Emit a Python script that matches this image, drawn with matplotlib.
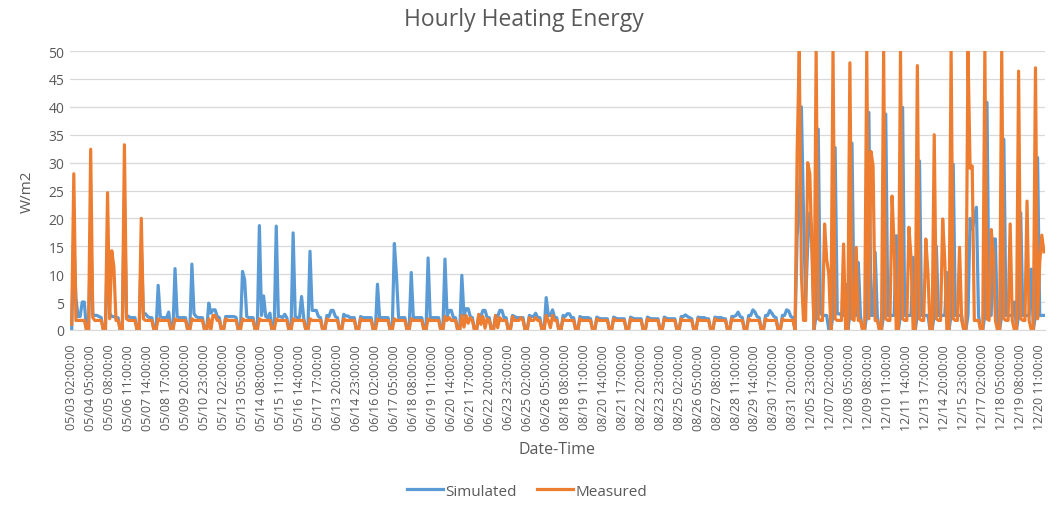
import numpy as np
import matplotlib.pyplot as plt

plt.rcParams['font.family'] = ['Open Sans', 'DejaVu Sans']

# category labels, one every 27 hours
tick_labels = [
    "05/03 02:00:00", "05/04 05:00:00", "05/05 08:00:00", "05/06 11:00:00",
    "05/07 14:00:00", "05/08 17:00:00", "05/09 20:00:00", "05/10 23:00:00",
    "05/12 02:00:00", "05/13 05:00:00", "05/14 08:00:00", "05/15 11:00:00",
    "05/16 14:00:00", "05/17 17:00:00", "06/13 20:00:00", "06/14 23:00:00",
    "06/16 02:00:00", "06/17 05:00:00", "06/18 08:00:00", "06/19 11:00:00",
    "06/20 14:00:00", "06/21 17:00:00", "06/22 20:00:00", "06/23 23:00:00",
    "06/25 02:00:00", "06/26 05:00:00", "08/18 08:00:00", "08/19 11:00:00",
    "08/20 14:00:00", "08/21 17:00:00", "08/22 20:00:00", "08/23 23:00:00",
    "08/25 02:00:00", "08/26 05:00:00", "08/27 08:00:00", "08/28 11:00:00",
    "08/29 14:00:00", "08/30 17:00:00", "08/31 20:00:00", "12/05 23:00:00",
    "12/07 02:00:00", "12/08 05:00:00", "12/09 08:00:00", "12/10 11:00:00",
    "12/11 14:00:00", "12/13 17:00:00", "12/14 20:00:00", "12/15 23:00:00",
    "12/17 02:00:00", "12/18 05:00:00", "12/19 08:00:00", "12/20 11:00:00",
]

# values every 3 h, one row per day (02 05 08 11 14 17 20 23 h)
sim_may = [
    [0, 16.6, 5.8, 2.4, 2.4, 5.0, 5.0, 0],
    [0, 18.4, 2.8, 2.6, 2.6, 2.4, 2.2, 0],
    [0, 15.7, 3.0, 2.4, 2.4, 2.2, 2.2, 0],
    [0, 23.4, 2.6, 2.4, 2.2, 2.2, 2.2, 0],
    [0, 15.0, 2.9, 2.9, 2.4, 2.2, 2.2, 0],
    [0, 8.0, 2.4, 2.2, 2.2, 2.2, 3.2, 0],
    [0, 11.0, 2.4, 2.2, 2.2, 2.2, 2.2, 0],
    [0, 11.8, 2.9, 2.4, 2.2, 2.2, 2.2, 0],
    [0, 4.8, 3.0, 3.6, 3.6, 2.4, 2.2, 0],
    [0, 2.4, 2.4, 2.4, 2.4, 2.4, 2.2, 0],
    [0, 10.5, 9.0, 2.4, 2.2, 2.2, 2.2, 0],
    [0, 18.7, 2.6, 6.1, 2.4, 2.2, 3.0, 0],
    [0, 18.6, 2.4, 2.4, 2.2, 2.8, 2.2, 0],
    [0, 17.4, 2.4, 2.2, 2.2, 6.0, 2.2, 0],
    [0, 14.1, 3.5, 3.5, 3.5, 2.4, 2.2, 0],
]
meas_may = [
    [1.0, 28.0, 1.7, 1.7, 1.7, 1.7, 1.7, 0],
    [0, 32.4, 2.2, 1.7, 1.7, 1.7, 1.7, 0],
    [0, 24.6, 2.0, 14.2, 11.3, 1.7, 1.7, 0],
    [0, 33.2, 2.0, 1.7, 1.7, 1.7, 1.7, 0],
    [0, 20.0, 2.0, 1.7, 1.7, 1.7, 1.7, 0],
    [0, 2.0, 1.7, 1.7, 1.7, 1.7, 1.7, 0],
    [0, 2.0, 1.7, 1.7, 1.7, 1.7, 1.7, 0],
    [0, 2.0, 1.7, 1.7, 1.7, 1.7, 1.7, 0],
    [0, 2.0, 0, 2.6, 2.6, 1.7, 1.7, 0],
    [0, 2.0, 1.7, 1.7, 1.7, 1.7, 1.7, 0],
    [0, 2.0, 1.7, 1.7, 1.7, 1.7, 1.7, 0],
    [0, 2.0, 1.7, 1.7, 1.7, 1.7, 1.7, 0],
    [0, 2.0, 1.7, 1.7, 1.7, 1.7, 1.7, 0],
    [0, 2.0, 1.7, 1.7, 1.7, 1.7, 1.7, 0],
    [0, 2.0, 1.7, 1.7, 1.7, 1.7, 1.7, 0],
]

sim_jun = [
    [0, 2.6, 2.4, 3.5, 3.5, 2.4, 2.2, 0],
    [0, 2.8, 2.5, 2.5, 2.2, 2.2, 2.2, 0],
    [0, 2.4, 2.2, 2.2, 2.2, 2.2, 2.2, 0],
    [0, 8.2, 2.2, 2.2, 2.2, 2.2, 2.2, 0],
    [0, 15.5, 9.7, 2.2, 2.2, 2.2, 2.2, 0],
    [0, 10.3, 2.2, 2.2, 2.2, 2.2, 2.2, 0],
    [0, 12.9, 2.2, 2.2, 2.2, 2.2, 2.2, 0],
    [0, 12.7, 2.4, 3.5, 3.5, 2.2, 2.2, 0],
    [0, 9.8, 2.6, 3.8, 3.8, 2.4, 2.2, 0],
    [0, 2.6, 2.4, 3.5, 3.5, 2.2, 2.2, 0],
    [0, 2.6, 2.4, 3.5, 3.5, 2.2, 2.2, 0],
    [0, 2.6, 2.4, 2.2, 2.2, 2.2, 2.2, 0],
    [0, 2.6, 2.4, 2.4, 3.0, 2.2, 2.2, 0],
    [0, 5.8, 2.6, 2.6, 3.6, 2.2, 2.2, 0],
]
meas_jun = [
    [0, 2.0, 1.7, 1.7, 1.7, 1.7, 1.7, 0],
    [0, 2.0, 1.7, 1.7, 1.7, 1.7, 1.7, 0],
    [0, 2.0, 1.7, 1.7, 1.7, 1.7, 1.7, 0],
    [0, 2.0, 1.7, 1.7, 1.7, 1.7, 1.7, 0],
    [0, 2.0, 1.7, 1.7, 1.7, 1.7, 1.7, 0],
    [0, 2.0, 1.7, 1.7, 1.7, 1.7, 1.7, 0],
    [0, 2.0, 1.7, 1.7, 1.7, 1.7, 1.7, 0],
    [0, 2.4, 1.7, 2.2, 1.7, 1.7, 1.7, 0],
    [0, 2.6, 0.5, 2.6, 1.2, 2.2, 1.7, 0],
    [0, 2.8, 1.0, 2.4, 0.3, 2.0, 1.7, 0],
    [0, 2.6, 0.4, 2.2, 1.7, 1.7, 1.7, 0],
    [0, 2.4, 1.7, 1.7, 1.7, 2.2, 1.7, 0],
    [0, 2.2, 1.7, 1.7, 2.2, 1.7, 1.7, 0],
    [0, 2.6, 1.7, 0.4, 2.6, 1.7, 1.7, 0],
]

sim_aug = [
    [0, 2.6, 2.4, 2.9, 2.9, 2.2, 2.2, 0],
    [0, 2.4, 2.2, 2.2, 2.2, 2.2, 2.0, 0],
    [0, 2.3, 2.1, 2.0, 2.0, 2.0, 2.0, 0],
    [0, 2.3, 2.1, 2.0, 2.0, 2.0, 2.0, 0],
    [0, 2.3, 2.1, 2.0, 2.0, 2.0, 2.0, 0],
    [0, 2.3, 2.1, 2.0, 2.0, 2.0, 2.0, 0],
    [0, 2.3, 2.1, 2.0, 2.0, 2.0, 2.0, 0],
    [0, 2.4, 2.4, 2.7, 2.4, 2.2, 2.0, 0],
    [0, 2.3, 2.2, 2.2, 2.2, 2.0, 2.0, 0],
    [0, 2.3, 2.2, 2.2, 2.2, 2.0, 2.0, 0],
    [0, 2.4, 2.4, 2.6, 3.2, 2.4, 2.2, 0],
    [0, 2.6, 2.6, 3.6, 3.2, 2.4, 2.2, 0],
    [0, 2.6, 2.6, 3.5, 3.0, 2.4, 2.2, 0],
    [0, 2.6, 2.6, 3.6, 3.4, 2.4, 2.2, 0],
]
meas_aug = [
    [0, 2.0, 1.7, 1.7, 1.7, 1.7, 1.7, 0],
    [0, 2.0, 1.7, 1.7, 1.7, 1.7, 1.7, 0],
    [0, 2.0, 1.7, 1.7, 1.7, 1.7, 1.7, 0],
    [0, 2.0, 1.7, 1.7, 1.7, 1.7, 1.7, 0],
    [0, 2.0, 1.7, 1.7, 1.7, 1.7, 1.7, 0],
    [0, 2.0, 1.7, 1.7, 1.7, 1.7, 1.7, 0],
    [0, 2.0, 1.7, 1.7, 1.7, 1.7, 1.7, 0],
    [0, 2.0, 1.7, 1.7, 1.7, 1.7, 1.7, 0],
    [0, 2.0, 1.7, 1.7, 1.7, 1.7, 1.7, 0],
    [0, 2.0, 1.7, 1.7, 1.7, 1.7, 1.7, 0],
    [0, 2.0, 1.7, 1.7, 1.7, 1.7, 1.7, 0],
    [0, 2.0, 1.7, 1.7, 1.7, 1.7, 1.7, 0],
    [0, 2.0, 1.7, 1.7, 1.7, 1.7, 1.7, 0],
    [0, 2.0, 1.7, 1.7, 1.7, 1.7, 1.7, 0],
]

sim_dec = [
    [17.0, 21.0, 40.0, 21.0, 5.0, 15.0, 21.0, 17.0],
    [0, 2.6, 36.0, 3.0, 2.6, 2.6, 2.6, 0],
    [0, 2.6, 32.7, 2.9, 2.9, 2.6, 2.6, 8.2],
    [0, 2.6, 33.5, 2.6, 2.6, 12.1, 2.6, 0],
    [0, 2.6, 39.0, 2.6, 2.6, 13.9, 2.6, 0],
    [0, 2.6, 38.7, 2.6, 2.6, 2.6, 2.6, 16.9],
    [0, 2.6, 39.9, 2.6, 2.6, 2.6, 2.6, 13.0],
    [0, 2.6, 30.3, 2.6, 2.6, 2.6, 2.6, 0],
    [0, 2.6, 15.0, 2.6, 2.6, 2.6, 2.6, 10.3],
    [0, 2.6, 29.7, 2.6, 2.6, 2.6, 2.6, 0],
    [0, 2.6, 20.0, 18.0, 20.0, 22.0, 2.6, 0],
    [0, 2.6, 40.8, 2.6, 2.6, 16.3, 16.3, 0],
    [0, 2.6, 34.2, 2.6, 2.6, 2.6, 2.6, 5.0],
    [0, 2.6, 21.0, 2.6, 2.6, 2.6, 2.6, 10.9],
    [0, 2.6, 30.9, 2.6, 2.6, 2.6],
]
meas_dec = [
    [32.0, 50.0, 10.0, 1.7, 1.7, 30.0, 28.0, 14.0],
    [0, 50.0, 2.0, 1.7, 1.7, 19.0, 12.7, 10.0],
    [0, 50.0, 2.0, 1.7, 1.7, 1.7, 15.4, 0],
    [0, 47.9, 2.0, 1.7, 14.8, 1.7, 1.7, 0],
    [0, 50.0, 2.0, 32.0, 29.4, 1.7, 1.7, 0],
    [0, 50.0, 2.0, 1.7, 1.7, 24.0, 14.8, 0],
    [0, 50.0, 2.0, 1.7, 1.7, 18.4, 13.0, 0],
    [0, 47.4, 2.0, 1.7, 1.7, 16.3, 10.3, 0],
    [0, 35.0, 2.0, 1.7, 1.7, 19.9, 12.4, 0],
    [0, 50.0, 2.0, 1.7, 1.7, 14.8, 1.7, 0],
    [0, 50.0, 29.0, 29.4, 1.7, 1.7, 1.7, 0],
    [0, 50.0, 2.0, 1.7, 18.0, 14.0, 1.7, 0],
    [0, 50.0, 2.0, 1.7, 1.7, 19.0, 1.7, 0],
    [0, 46.4, 2.0, 1.7, 1.7, 23.1, 1.7, 0],
    [0, 47.0, 2.0, 12.0, 17.0, 14.0],
]

simulated = sum(sim_may + sim_jun + sim_aug + sim_dec, [])
measured = sum(meas_may + meas_jun + meas_aug + meas_dec, [])
x = np.arange(len(simulated))

grey = '#595959'
fig = plt.figure(figsize=(10.48, 5.06), dpi=100)
ax = fig.add_axes([0.0668, 0.346, 0.9303, 0.551])

ax.plot(x, simulated, color='#5B9BD5', lw=2.3, solid_joinstyle='round', label='Simulated')
ax.plot(x, measured, color='#ED7D31', lw=2.3, solid_joinstyle='round', label='Measured')

ax.set_xlim(-0.8, 461.5)
ax.set_ylim(0, 50)
ax.set_yticks(np.arange(0, 51, 5))
ax.yaxis.grid(True, color='#D9D9D9', lw=0.9)
ax.set_axisbelow(True)

ax.set_xticks(np.arange(len(tick_labels)) * 9)
ax.set_xticklabels(tick_labels, rotation=90, fontsize=9, color=grey)
ax.tick_params(axis='x', length=0, pad=10)
ax.tick_params(axis='y', length=0, pad=4, labelsize=10, labelcolor=grey)

for s in ['top', 'right', 'left']:
    ax.spines[s].set_visible(False)
ax.spines['bottom'].set_color('#D9D9D9')

ax.set_ylabel('W/m2', fontsize=11, color=grey, labelpad=10)
ax.set_xlabel('Date-Time', fontsize=11.5, color=grey, labelpad=8)
fig.suptitle('Hourly Heating Energy', fontsize=16.5, color=grey, y=0.985)

fig.legend(loc='lower center', bbox_to_anchor=(0.503, -0.015), ncol=2, frameon=False,
           fontsize=11, handlelength=2.35, handletextpad=0.15, columnspacing=1.3,
           labelcolor=grey)

fig.savefig('out.png', dpi=100)
